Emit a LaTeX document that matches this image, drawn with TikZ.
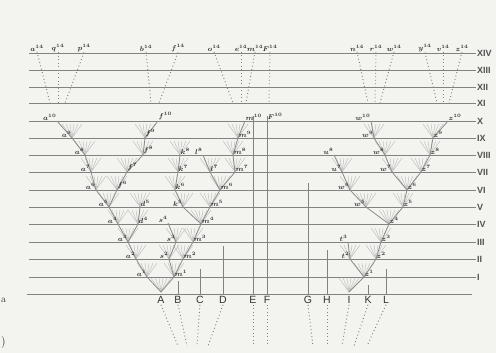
\documentclass[tikz,border=0pt]{standalone}
\usepackage{fontspec}
\setsansfont{Liberation Sans}
\usepackage{tikz}
\usetikzlibrary{positioning}

\definecolor{paper}{RGB}{243,243,240}
\definecolor{rulecol}{RGB}{130,130,130}
\definecolor{twig}{RGB}{140,140,140}
\definecolor{ink}{RGB}{50,50,50}

\tikzset{
  level/.style={draw=rulecol, line width=0.9pt},
  branch/.style={draw=twig, line width=0.8pt},
  ray/.style={draw=twig!55, line width=0.5pt},
  dots/.style={draw=rulecol, line width=1pt, dash pattern=on 0.9pt off 2.6pt},
  stem/.style={draw=rulecol, line width=0.7pt},
  lbl/.style={font=\fontsize{7}{7}\selectfont\boldmath, text=ink, inner sep=0.5pt},
  lside/.style={above left=0pt},
  rside/.style={above right=0pt},
  letter/.style={font=\sffamily\fontsize{10.5}{10.5}\selectfont, text=ink, inner sep=1pt},
  roman/.style={font=\sffamily\bfseries\fontsize{9}{9}\selectfont, text=ink!85, anchor=west, inner sep=1pt},
}

\begin{document}
\begin{tikzpicture}[x=1pt, y=-1pt]
  \useasboundingbox (0,0) rectangle (496,353);
  \fill[paper] (0,0) rectangle (496,353);

  % Generations
  \foreach \r/\y in {XIV/53, XIII/70, XII/87, XI/103, X/121, IX/138, VIII/155,
                     VII/172, VI/190, V/207, IV/224, III/242, II/259, I/277} {
    \node[roman] (r\r) at (476,\y) {\r};
    \coordinate (s\r) at (29,\y);
    \draw[level] (s\r) -- (r\r.west);
  }
  \coordinate (base0) at (27,294);
  \coordinate (base1) at (472,294);
  \draw[level] (base0) -- (base1);

  % Tree points
  \foreach \n/\x/\y in {A0/161/292,
      a1/147/277, m1/174/277,
      a2/136/259, s2/169/259, m2/183/259,
      a3/128/242, s3/176/242, m3/193/242,
      a4/118/224, d4/138/224, s4/168/223, m4/201/224,
      a5/109/207, d5/140/207, k5/183/207, m5/210/207,
      a6/96/190, f6/117/190, k6/175/190, m6/220/190,
      a7/91/172, f7/127/172, k7/178/172, l7/210/172, m7/235/172,
      a8/85/155, f8/143/155, k8/180/155, l8/203/155, m8/233/155,
      a9/72/138, f9/145/138, m9/238/138,
      a10/57/121, f10/158/121, m10/245/121,
      I0/349/292,
      z1/364/277,
      t2/350/259, z2/376/259,
      t3/348/242, z3/381/242,
      z4/389/224,
      w5/366/207, z5/403/207,
      w6/350/190, z6/407/190,
      u7/342/172, w7/392/172, z7/421/172,
      u8/334/155, w8/385/155, z8/430/155,
      w9/374/138, z9/433/138,
      w10/371/121, z10/448/121}
    \coordinate (\n) at (\x,\y);

  % Twigs
  \foreach \n in {A0,a1,m1,a2,s2,m2,a3,s3,m3,a4,d4,m4,a5,d5,k5,m5,
                  a6,f6,k6,m6,a7,f7,k7,l7,m7,a8,f8,k8,m8,a9,f9,m9,
                  I0,z1,t2,z2,z3,z4,w5,z5,w6,z6,u7,w7,z7,w8,z8,w9,z9} {
    \foreach \dx in {-10,-6,-2,2,6,10}
      \draw[ray] (\n) -- ++(\dx,-14);
  }

  % Branches
  \foreach \p/\c in {A0/a1, A0/m1, a1/a2, m1/s2, m1/m2, a2/a3, s2/s3, m2/m3,
      a3/a4, a3/d4, s3/s4, m3/m4, a4/a5, d4/d5, m4/k5, m4/m5,
      a5/a6, a5/f6, k5/k6, m5/m6, a6/a7, f6/f7, k6/k7, m6/l7, m6/m7,
      a7/a8, f7/f8, k7/k8, l7/l8, m7/m8, a8/a9, f8/f9, m8/m9,
      a9/a10, f9/f10, m9/m10,
      I0/z1, z1/t2, z1/z2, t2/t3, z2/z3, z3/z4, z4/w5, z4/z5,
      w5/w6, z5/z6, w6/u7, z6/w7, z6/z7, u7/u8, w7/w8, z7/z8,
      w8/w9, z8/z9, w9/w10, z9/z10}
    \draw[branch] (\p) -- (\c);

  % Names of the forms
  \foreach \n/\c/\k/\s in {a1/a/1/lside, m1/m/1/rside,
      a2/a/2/lside, s2/s/2/lside, m2/m/2/rside,
      a3/a/3/lside, s3/s/3/lside, m3/m/3/rside,
      a4/a/4/lside, d4/d/4/rside, s4/s/4/lside, m4/m/4/rside,
      a5/a/5/lside, d5/d/5/rside, k5/k/5/lside, m5/m/5/rside,
      a6/a/6/lside, f6/f/6/rside, k6/k/6/rside, m6/m/6/rside,
      a7/a/7/lside, f7/f/7/rside, k7/k/7/rside, l7/l/7/rside, m7/m/7/rside,
      a8/a/8/lside, f8/f/8/rside, k8/k/8/rside, l8/l/8/lside, m8/m/8/rside,
      a9/a/9/lside, f9/f/9/rside, m9/m/9/rside,
      a10/a/10/lside, f10/f/10/rside, m10/m/10/rside,
      z1/z/1/rside, t2/t/2/lside, z2/z/2/rside, t3/t/3/lside, z3/z/3/rside,
      z4/z/4/rside, w5/w/5/lside, z5/z/5/rside, w6/w/6/lside, z6/z/6/rside,
      u7/u/7/lside, w7/w/7/lside, z7/z/7/rside,
      u8/u/8/lside, w8/w/8/lside, z8/z/8/rside,
      w9/w/9/lside, z9/z/9/rside, w10/w/10/lside, z10/z/10/rside}
    \node[lbl, \s] (n\n) at (\n) {$\c^{\k}$};

  % Upper generations
  \foreach \n/\c/\xt/\xb in {a/a/37/50, q/q/58/58, p/p/84/65, b/b/146/151,
      f/f/178/159, o/o/214/233, e/e/241/241, m/m/255/246, F/F/270/269,
      n/n/357/368, r/r/376/375, w/w/394/380, y/y/425/437, v/v/443/443,
      z/z/462/449} {
    \node[lbl] (top\n) at (\xt,48) {$\c^{14}$};
    \coordinate (bot\n) at (\xb,103);
    \draw[dots] (top\n.south) -- (bot\n);
  }

  % Original species
  \foreach \n/\x/\xe/\yt in {A/161/178/292, B/178/187/281, C/200/197/269,
      D/223/208/246, E/253/253/116, F/267/267/116, G/308/313/183,
      H/327/327/250, I/349/342/292, K/368/354/285, L/386/367/269} {
    \node[letter] (l\n) at (\x,300) {\n};
    \coordinate (e\n) at (\xe,346);
    \coordinate (h\n) at (\x,\yt);
    \draw[dots] (l\n.south) -- (e\n);
  }
  \foreach \n in {B,C,D,E,F,G,H,K,L}
    \draw[stem] (h\n) -- (l\n.north);
  \node[lbl, right=0pt of hF] (nF10) {$F^{10}$};

  % page edge
  \node[font=\fontsize{10}{10}\selectfont, text=ink, anchor=west, inner sep=0.5pt] (edgea) at (0.5,300) {a};
  \node[font=\fontsize{12}{12}\selectfont, text=ink, anchor=west, inner sep=0.5pt] (edgeb) at (0.5,343) {)};
\end{tikzpicture}
\end{document}
